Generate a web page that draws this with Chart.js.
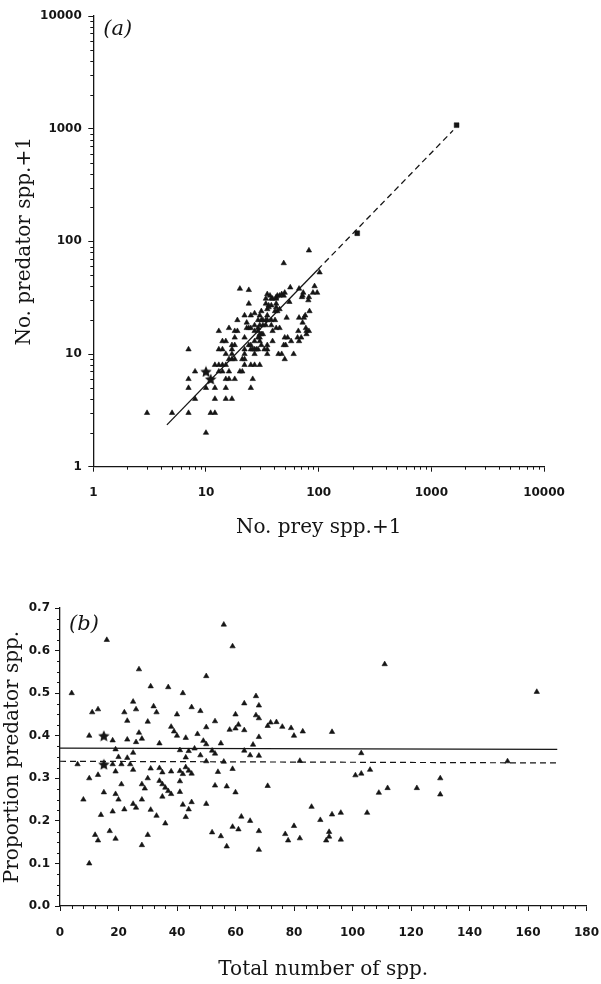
<!DOCTYPE html>
<html>
<head>
<meta charset="utf-8">
<script src="https://cdn.jsdelivr.net/npm/chart.js@4.4.0/dist/chart.umd.min.js"></script>
<style>
html, body { margin: 0; padding: 0; background: #fff; }
body { width: 601px; height: 984px; position: relative; overflow: hidden; }
.panel { position: absolute; left: 0; width: 620px; }
#wrapA { top: 0; height: 560px; }
#wrapB { top: 560px; height: 424px; }
</style>
</head>
<body>
<div class="panel" id="wrapA"><canvas id="chartA" width="601" height="560"></canvas></div>
<div class="panel" id="wrapB"><canvas id="chartB" width="620" height="424"></canvas></div>
<script>
// ---- panel (a): prey+1 vs predator+1 per web (log-log) ----
const preyA = [3,5,7,7,8,10,7,8,10,11,12,12,12,7,15,12,13,15,13,14,15,17,14,16,15,16,13,18,14,15,16,17,
  14,17,18,20,15,17,21,13,17,18,21,22,25,22,18,22,26,16,22,25,18,19,27,22,24,25,25,26,27,30,27,19,28,27,
  23,29,24,23,25,27,29,30,31,22,30,33,27,29,30,35,29,31,35,32,25,35,30,29,27,32,31,24,30,34,39,32,34,44,
  31,35,39,38,35,47,20,38,42,50,35,24,41,49,34,36,45,36,51,50,34,38,41,43,53,42,35,38,37,39,42,45,57,60,
  52,42,42,43,45,65,67,47,49,66,70,55,50,67,72,78,77,78,56,74,76,82,71,72,67,83,73,81,49,82,89,92,97,102,82];
const predA = [3,3,3,5,4,2,6,7,5,3,3,4,5,11,4,8,7,5,8,7,6,4,8,6,8,7,11,6,11,10,9,9,
  13,10,9,7,13,11,7,16,12,12,9,8,5,9,14,10,6,17,11,8,16,16,8,14,12,11,12,11,10,8,11,20,11,13,
  17,11,17,19,17,16,14,13,12,22,14,11,18,16,15,10,17,15,11,15,22,12,18,20,23,18,20,28,22,18,13,20,20,10,
  24,20,16,18,22,10,38,20,17,9,25,37,20,12,28,26,17,27,12,14,31,27,24,24,14,26,34,31,33,31,28,25,13,10,
  21,31,32,33,33,14,13,34,33,16,14,29,35,21,19,15,17,16,39,21,22,16,32,33,38,24,35,30,64,32,35,40,35,53,83];
const starPreyA = [10, 11];
const starPredA = [7, 6];
const squarePreyA = [220, 1676];
const squarePredA = [118, 1074];
const fitSolidX = [4.5, 98];
const fitSolidY = [2.35, 56];
const fitDashX = [98, 1560];
const fitDashY = [56, 965];
const decadeTicks = [1, 10, 100, 1000, 10000];

// ---- panel (b): total species vs proportion of predators ----
const totalB = [4,6,8,10,10,10,11,13,13,12,13,14,15,16,17,18,18,18,19,19,19,19,20,20,21,21,22,22,23,23,23,24,
  25,25,25,25,26,26,26,27,27,28,28,28,28,29,30,30,30,31,31,31,32,33,33,34,34,34,35,35,35,36,36,37,37,38,38,
  38,39,40,40,41,41,41,41,42,42,42,43,43,43,43,44,44,44,45,45,45,46,47,48,48,49,50,50,50,50,50,52,52,53,53,
  53,54,55,55,56,56,57,57,58,59,59,59,60,60,60,61,61,62,63,63,63,65,65,66,67,67,68,68,68,68,68,68,71,71,
  72,74,76,77,78,79,80,80,82,82,83,86,89,91,92,92,93,93,96,96,101,103,103,105,106,109,111,112,122,130,130,153,163];
const propB = [0.5,0.333,0.25,0.4,0.3,0.1,0.455,0.462,0.308,0.167,0.154,0.214,0.267,0.625,0.176,0.389,0.333,0.222,
  0.368,0.316,0.263,0.158,0.35,0.25,0.333,0.286,0.455,0.227,0.435,0.391,0.348,0.333,
  0.48,0.36,0.32,0.24,0.462,0.385,0.231,0.556,0.407,0.393,0.286,0.25,0.143,0.276,0.433,0.3,0.167,0.516,0.323,
  0.226,0.469,0.455,0.212,0.382,0.324,0.294,0.314,0.286,0.257,0.194,0.278,0.514,0.27,0.316,0.421,
  0.263,0.41,0.45,0.4,0.366,0.317,0.293,0.268,0.5,0.31,0.238,0.395,0.349,0.326,0.209,0.364,0.318,0.227,0.311,
  0.467,0.244,0.37,0.404,0.458,0.354,0.388,0.54,0.42,0.34,0.24,0.38,0.365,0.173,0.434,0.358,
  0.283,0.315,0.382,0.164,0.661,0.339,0.281,0.14,0.414,0.61,0.322,0.186,0.45,0.417,0.267,0.426,0.18,0.21,0.476,
  0.413,0.365,0.354,0.2,0.379,0.493,0.448,0.471,0.441,0.397,0.353,0.176,0.132,0.282,0.423,
  0.431,0.432,0.421,0.169,0.154,0.418,0.4,0.188,0.159,0.341,0.41,0.233,0.202,0.154,0.174,0.163,0.409,0.215,
  0.219,0.156,0.307,0.311,0.359,0.219,0.32,0.266,0.568,0.277,0.277,0.3,0.262,0.34,0.503];
const starTotalB = [15, 15];
const starPropB = [0.4, 0.333];
const meanX = [0, 170];
const meanSolidY = [0.371, 0.368];
const meanDashY = [0.34, 0.336];
const xTicksB = [0, 20, 40, 60, 80, 100, 120, 140, 160, 180];
const yTicksB = [0, 0.1, 0.2, 0.3, 0.4, 0.5, 0.6, 0.7];

const INK = '#151515';
const SERIF = "'DejaVu Serif', 'Liberation Serif', serif";
const TICK_FONT = { family: "'DejaVu Sans', 'Liberation Sans', sans-serif", size: 12, weight: 'bold' };
Chart.defaults.color = INK;

const zip = (xs, ys) => xs.map((x, i) => ({ x: x, y: ys[i] }));

// minor tick values
const logMinor = [];
decadeTicks.slice(0, -1).forEach(d => { for (let k = 2; k <= 9; k++) logMinor.push(d * k); });
const xMinorB = [];
for (let v = 4; v < 180; v += 4) if (v % 20) xMinorB.push(v);
const yMinorB = [];
for (let v = 0.025; v < 0.7; v += 0.025) if (Math.abs(v * 10 - Math.round(v * 10)) > 0.01) yMinorB.push(v);

function starImage(size) {
    const c = document.createElement('canvas');
    c.width = size; c.height = size;
    const g = c.getContext('2d');
    const R = size / 2, r = R * 0.47;
    g.beginPath();
    for (let i = 0; i < 10; i++) {
        const a = -Math.PI / 2 + i * Math.PI / 5;
        const rad = i % 2 ? r : R;
        g.lineTo(R + rad * Math.cos(a), R + 0.6 + rad * Math.sin(a));
    }
    g.closePath();
    g.fillStyle = INK;
    g.fill();
    return c;
}
const star = starImage(12);

// short minor ticks drawn on the library's scales
const minorTicks = {
    id: 'minorTicks',
    afterDraw(chart, args, opts) {
        const ctx = chart.ctx;
        ctx.save();
        ctx.strokeStyle = INK;
        ctx.lineWidth = 1;
        ['x', 'y'].forEach(id => {
            const s = chart.scales[id];
            (opts[id] || []).forEach(v => {
                const p = Math.round(s.getPixelForValue(v)) + 0.5;
                ctx.beginPath();
                if (id === 'x') { ctx.moveTo(p, s.top); ctx.lineTo(p, s.top + 3); }
                else { ctx.moveTo(s.right, p); ctx.lineTo(s.right - 3, p); }
                ctx.stroke();
            });
        });
        ctx.restore();
    }
};

const panelLabel = {
    id: 'panelLabel',
    afterDraw(chart, args, opts) {
        const { ctx, chartArea } = chart;
        ctx.save();
        ctx.font = 'italic 21px ' + SERIF;
        ctx.fillStyle = INK;
        ctx.textBaseline = 'middle';
        ctx.fillText(opts.text, chartArea.left + opts.dx, chartArea.top + opts.dy);
        ctx.restore();
    }
};

function axis(extra) {
    return Object.assign({
        grid: { drawOnChartArea: false, tickLength: 5, color: INK, tickColor: INK, tickWidth: 1 },
        border: { color: INK, width: 1.3 }
    }, extra);
}

const triStyle = { pointStyle: 'triangle', pointRadius: 3.1, pointHoverRadius: 3.1, backgroundColor: INK, borderColor: INK, borderWidth: 0.6 };

// Panel (a)
new Chart(document.getElementById('chartA'), {
    type: 'scatter',
    data: {
        datasets: [
            Object.assign({ data: zip(preyA, predA) }, triStyle),
            { data: zip(starPreyA, starPredA), pointStyle: star, pointRadius: 6 },
            { data: zip(squarePreyA, squarePredA), pointStyle: 'rect', pointRadius: 3.4, backgroundColor: INK, borderColor: INK, borderWidth: 0.5 },
            { data: zip(fitSolidX, fitSolidY), showLine: true, pointRadius: 0, borderColor: INK, borderWidth: 1.3 },
            { data: zip(fitDashX, fitDashY), showLine: true, pointRadius: 0, borderColor: INK, borderWidth: 1.3, borderDash: [6, 4] }
        ]
    },
    options: {
        responsive: false,
        animation: false,
        layout: { padding: { left: 0, top: 16, right: 57, bottom: 0 } },
        plugins: {
            legend: { display: false },
            tooltip: { enabled: false },
            minorTicks: { x: logMinor, y: logMinor },
            panelLabel: { text: '(a)', dx: 10, dy: 14 }
        },
        scales: {
            x: axis({
                type: 'logarithmic', min: 1, max: 10000,
                afterBuildTicks: s => { s.ticks = decadeTicks.map(v => ({ value: v, major: true })); },
                afterFit: s => { s.height = 93.3; },
                ticks: { callback: v => String(v), font: TICK_FONT, color: INK, padding: 13.5, maxRotation: 0 },
                title: { display: true, text: 'No. prey spp.+1', font: { family: SERIF, size: 20 }, color: INK, padding: { bottom: 20 } }
            }),
            y: axis({
                type: 'logarithmic', min: 1, max: 10000,
                afterBuildTicks: s => { s.ticks = decadeTicks.map(v => ({ value: v, major: true })); },
                afterFit: s => { s.width = 93.3; },
                ticks: { callback: v => String(v), font: TICK_FONT, color: INK, padding: 6.5 },
                title: { display: true, text: 'No. predator spp.+1', font: { family: SERIF, size: 20 }, color: INK, padding: { top: 13 } }
            })
        }
    },
    plugins: [minorTicks, panelLabel]
});

// Panel (b)
new Chart(document.getElementById('chartB'), {
    type: 'scatter',
    data: {
        datasets: [
            Object.assign({ data: zip(totalB, propB) }, triStyle),
            { data: zip(starTotalB, starPropB), pointStyle: star, pointRadius: 6 },
            { data: zip(meanX, meanSolidY), showLine: true, pointRadius: 0, borderColor: INK, borderWidth: 1.3 },
            { data: zip(meanX, meanDashY), showLine: true, pointRadius: 0, borderColor: INK, borderWidth: 1.2, borderDash: [6, 4] }
        ]
    },
    options: {
        responsive: false,
        animation: false,
        layout: { padding: { left: 0, top: 48, right: 33.5, bottom: 0 } },
        plugins: {
            legend: { display: false },
            tooltip: { enabled: false },
            minorTicks: { x: xMinorB, y: yMinorB },
            panelLabel: { text: '(b)', dx: 9, dy: 17 }
        },
        scales: {
            x: axis({
                type: 'linear', min: 0, max: 180,
                afterBuildTicks: s => { s.ticks = xTicksB.map(v => ({ value: v })); },
                afterFit: s => { s.height = 78; },
                ticks: { callback: v => String(v), font: TICK_FONT, color: INK, padding: 14.5, maxRotation: 0 },
                title: { display: true, text: 'Total number of spp.', font: { family: SERIF, size: 20 }, color: INK, padding: { bottom: 2 } }
            }),
            y: axis({
                type: 'linear', min: 0, max: 0.7,
                afterBuildTicks: s => { s.ticks = yTicksB.map(v => ({ value: v })); },
                afterFit: s => { s.width = 60; },
                ticks: { callback: v => v.toFixed(1), font: TICK_FONT, color: INK, padding: 5 },
                title: { display: true, text: 'Proportion predator spp.', font: { family: SERIF, size: 20 }, color: INK, padding: { top: 1 } }
            })
        }
    },
    plugins: [minorTicks, panelLabel]
});
</script>
</body>
</html>
